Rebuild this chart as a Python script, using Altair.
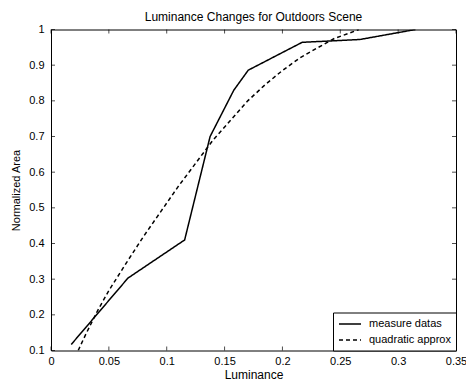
import altair as alt
import pandas as pd

# measured data (solid)
meas_x = [0.0175, 0.0665, 0.1155, 0.1375, 0.158, 0.1705, 0.217, 0.267, 0.315]
meas_y = [0.117, 0.303, 0.410, 0.700, 0.830, 0.886, 0.964, 0.972, 1.000]

# quadratic approximation (dashed)
quad_x = [0.0235, 0.03, 0.04, 0.05, 0.065, 0.08, 0.095, 0.11, 0.125, 0.14,
          0.155, 0.17, 0.185, 0.2, 0.215, 0.23, 0.245, 0.258, 0.266]
quad_y = [0.100, 0.145, 0.210, 0.268, 0.345, 0.420, 0.490, 0.560, 0.625, 0.690,
          0.745, 0.800, 0.845, 0.885, 0.920, 0.948, 0.975, 0.990, 1.000]

series_names = ["measure datas", "quadratic approx"]
x_ticks = [0, 0.05, 0.1, 0.15, 0.2, 0.25, 0.3, 0.35]
y_ticks = [0.1, 0.2, 0.3, 0.4, 0.5, 0.6, 0.7, 0.8, 0.9, 1.0]

W, H = 405, 321

df = pd.concat([
    pd.DataFrame({"x": meas_x, "y": meas_y, "s": series_names[0], "o": range(len(meas_x))}),
    pd.DataFrame({"x": quad_x, "y": quad_y, "s": series_names[1], "o": range(len(quad_x))}),
])
xt = pd.DataFrame({"v": x_ticks})
yt = pd.DataFrame({"v": y_ticks})

xscale = alt.Scale(domain=[0, 0.35], nice=False, zero=False)
yscale = alt.Scale(domain=[0.1, 1.0], nice=False, zero=False)

xaxis = alt.Axis(values=x_ticks, format="~g", ticks=False, grid=False,
                 domain=False, labelPadding=5, titlePadding=3,
                 labelOverlap=False, labelFlush=False, titleFontSize=12)
yaxis = alt.Axis(values=y_ticks, format="~g", ticks=False, grid=False,
                 domain=False, labelPadding=7, titlePadding=7,
                 labelOverlap=False, labelFlush=False, titleFontSize=11)

NB = "\u00a0"
label_expr = ("datum.label == 'quadratic approx' ? '" + NB * 4 + "quadratic approx" + NB * 2
              + "' : datum.label")

lines = alt.Chart(df).mark_line(color="black", strokeWidth=1.5, clip=True).encode(
    x=alt.X("x:Q", scale=xscale, title="Luminance", axis=xaxis),
    y=alt.Y("y:Q", scale=yscale, title="Normalized Area", axis=yaxis),
    strokeDash=alt.StrokeDash(
        "s:N",
        scale=alt.Scale(domain=series_names, range=[[1, 0], [4, 3]]),
        legend=alt.Legend(
            title=None, orient="bottom-right", offset=0,
            strokeColor="black", fillColor="white", padding=5,
            cornerRadius=0, symbolType="M-1,0H3", symbolSize=121,
            symbolStrokeColor="black", symbolStrokeWidth=1.5,
            labelFontSize=11, labelOffset=18, rowPadding=4,
            labelExpr=label_expr,
        ),
    ),
    order="o:Q",
)

tick_len = 4
tk = dict(color="black", size=tick_len, thickness=1)
bot = alt.Chart(xt).mark_tick(orient="vertical", **tk).encode(
    x=alt.X("v:Q", scale=xscale, title="Luminance", axis=xaxis), y=alt.value(H - tick_len / 2))
top = alt.Chart(xt).mark_tick(orient="vertical", **tk).encode(
    x=alt.X("v:Q", scale=xscale, title="Luminance", axis=xaxis), y=alt.value(tick_len / 2))
left = alt.Chart(yt).mark_tick(orient="horizontal", **tk).encode(
    y=alt.Y("v:Q", scale=yscale, title="Normalized Area", axis=yaxis), x=alt.value(tick_len / 2))
right = alt.Chart(yt).mark_tick(orient="horizontal", **tk).encode(
    y=alt.Y("v:Q", scale=yscale, title="Normalized Area", axis=yaxis), x=alt.value(W - tick_len / 2))

chart = alt.layer(lines, bot, top, left, right).properties(
    width=W, height=H,
    title=alt.Title("Luminance Changes for Outdoors Scene", fontSize=12,
                    fontWeight="normal", font="Liberation Sans", color="black",
                    offset=7, dy=7),
    autosize=alt.AutoSizeParams(type="none"),
    padding={"left": 43, "top": 21.5, "right": 10, "bottom": 31},
).configure_view(stroke="black", strokeWidth=1).configure_axis(
    labelFont="Liberation Sans", titleFont="Liberation Sans", labelFontSize=11,
    titleFontWeight="normal", labelColor="black", titleColor="black",
).configure_legend(labelFont="Liberation Sans", labelColor="black")

chart.save("out.html", embed_options={"renderer": "svg", "actions": False})
